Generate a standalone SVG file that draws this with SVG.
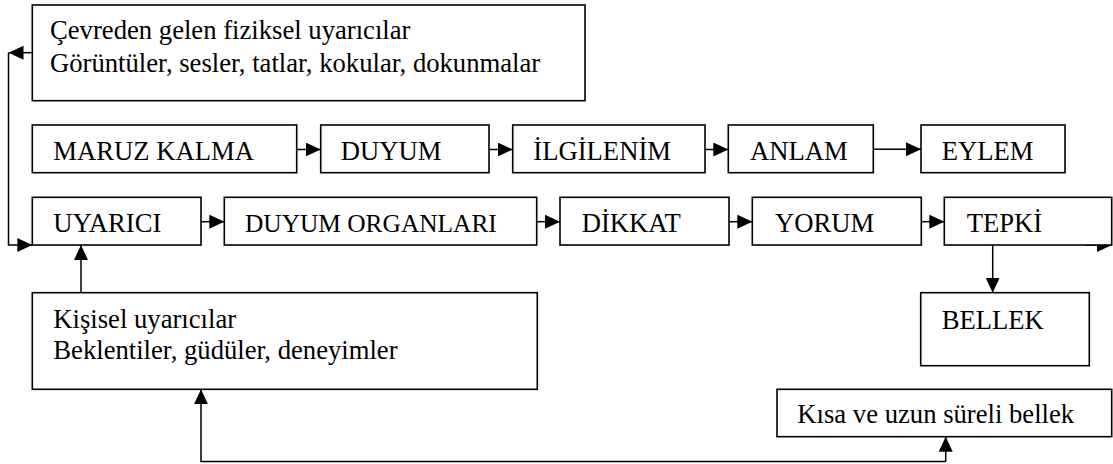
<svg xmlns="http://www.w3.org/2000/svg" width="1113" height="464" viewBox="0 0 1113 464">
<style>
.box{fill:#fff;stroke:#000;stroke-width:1.6}
.t{font-family:"Liberation Serif","Times New Roman",serif;font-size:26.67px;fill:#000}
.c{fill:none;stroke:#000;stroke-width:1.5}
</style>
<defs>
<marker id="ah" markerUnits="userSpaceOnUse" markerWidth="16" markerHeight="15" refX="15" refY="7" orient="auto">
<path d="M0,0 L15,7 L0,14 Z" fill="#000"/>
</marker>
</defs>
<rect width="1113" height="464" fill="#fff"/>
<g id="connectors">
<path class="c" d="M32,52.7 H8.5" marker-end="url(#ah)"/>
<path class="c" d="M8.5,52.7 V245 H32.3" marker-end="url(#ah)"/>
<path class="c" d="M297,149.5 H320.7" marker-end="url(#ah)"/>
<path class="c" d="M489,149.5 H512.7" marker-end="url(#ah)"/>
<path class="c" d="M705,149.5 H728.3" marker-end="url(#ah)"/>
<path class="c" d="M873.3,149.3 H921" marker-end="url(#ah)"/>
<path class="c" d="M201,221.7 H224.3" marker-end="url(#ah)"/>
<path class="c" d="M536.7,221.7 H560" marker-end="url(#ah)"/>
<path class="c" d="M729,221.7 H752.3" marker-end="url(#ah)"/>
<path class="c" d="M921.3,221.7 H944.3" marker-end="url(#ah)"/>
<path class="c" d="M1085,245 H1112" marker-end="url(#ah)"/>
<path class="c" d="M992.7,245 V292.7" marker-end="url(#ah)"/>
<path class="c" d="M81,292.7 V245" marker-end="url(#ah)"/>
<path class="c" d="M945.7,461.5 H201 V389.3" marker-end="url(#ah)"/>
<path class="c" d="M945.7,461.5 V436.7" marker-end="url(#ah)"/>
</g>
<g id="cevre">
<rect class="box" x="32.3" y="5" width="552.7" height="95.7"/>
<text class="t" x="50" y="39.3">Çevreden gelen fiziksel uyarıcılar</text>
<text class="t" x="50" y="71.7">Görüntüler, sesler, tatlar, kokular, dokunmalar</text>
</g>
<g id="maruz">
<rect class="box" x="32.3" y="125" width="264.4" height="47.7"/>
<text class="t" x="53.3" y="160">MARUZ KALMA</text>
</g>
<g id="duyum">
<rect class="box" x="320.7" y="125" width="168.3" height="47.7"/>
<text class="t" x="340.7" y="160">DUYUM</text>
</g>
<g id="ilgilenim">
<rect class="box" x="512.7" y="125" width="192.3" height="47.7"/>
<text class="t" x="533.3" y="160">İLGİLENİM</text>
</g>
<g id="anlam">
<rect class="box" x="728.3" y="125" width="145" height="47.7"/>
<text class="t" x="750" y="160">ANLAM</text>
</g>
<g id="eylem">
<rect class="box" x="921" y="125" width="144" height="47.7"/>
<text class="t" x="941.7" y="160">EYLEM</text>
</g>
<g id="uyarici">
<rect class="box" x="32.3" y="197.3" width="168.7" height="47.7"/>
<text class="t" x="53.3" y="231.7">UYARICI</text>
</g>
<g id="duyum-organlari">
<rect class="box" x="224.3" y="197.3" width="312.4" height="47.7"/>
<text class="t" x="245" y="231.7" style="font-size:25.4px">DUYUM ORGANLARI</text>
</g>
<g id="dikkat">
<rect class="box" x="560" y="197.3" width="169" height="47.7"/>
<text class="t" x="581.7" y="231.7">DİKKAT</text>
</g>
<g id="yorum">
<rect class="box" x="752.3" y="197.3" width="169" height="47.7"/>
<text class="t" x="775" y="231.7">YORUM</text>
</g>
<g id="tepki">
<rect class="box" x="944.3" y="197.3" width="167.4" height="47.7"/>
<text class="t" x="966.7" y="231.7">TEPKİ</text>
</g>
<g id="bellek">
<rect class="box" x="920.7" y="292.7" width="168.6" height="73"/>
<text class="t" x="941.7" y="329">BELLEK</text>
</g>
<g id="kisisel">
<rect class="box" x="32.3" y="292.7" width="505" height="96.6"/>
<text class="t" x="53.3" y="328.3">Kişisel uyarıcılar</text>
<text class="t" x="53.3" y="359">Beklentiler, güdüler, deneyimler</text>
</g>
<g id="kisa-uzun">
<rect class="box" x="777" y="389.3" width="334.7" height="47.4"/>
<text class="t" x="797.3" y="423.3">Kısa ve uzun süreli bellek</text>
</g>
</svg>
